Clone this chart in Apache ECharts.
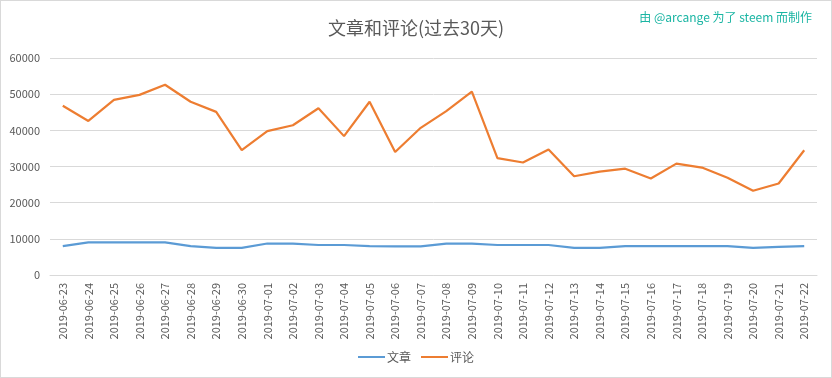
<!DOCTYPE html>
<html>
<head>
<meta charset="utf-8">
<script src="https://cdn.jsdelivr.net/npm/echarts@6/dist/echarts.min.js"></script>
<style>
  html, body { margin: 0; padding: 0; background: #fff; }
  #chart-container { position: absolute; left: 0; top: 0; width: 830px; height: 376px; border: 1px solid #d9d9d9; }
</style>
</head>
<body>
<div id="chart-container"></div>
<script>
var dom = document.getElementById('chart-container');
var myChart = echarts.init(dom, null, { renderer: 'canvas' });

const dates = [
  '2019-06-23', '2019-06-24', '2019-06-25', '2019-06-26', '2019-06-27', '2019-06-28',
  '2019-06-29', '2019-06-30', '2019-07-01', '2019-07-02', '2019-07-03', '2019-07-04',
  '2019-07-05', '2019-07-06', '2019-07-07', '2019-07-08', '2019-07-09', '2019-07-10',
  '2019-07-11', '2019-07-12', '2019-07-13', '2019-07-14', '2019-07-15', '2019-07-16',
  '2019-07-17', '2019-07-18', '2019-07-19', '2019-07-20', '2019-07-21', '2019-07-22'
];

// 文章
const posts = [
  8000, 9000, 9000, 9000, 9000, 8000, 7500, 7500, 8700, 8700, 8300, 8300,
  8000, 7900, 7900, 8700, 8700, 8300, 8300, 8300, 7500, 7500, 8000, 8000,
  8000, 8000, 8000, 7500, 7800, 8000
];

// 评论
const comments = [
  46800, 42600, 48400, 49800, 52600, 47900, 45100, 34500, 39800, 41400, 46100, 38400,
  47900, 34000, 40700, 45300, 50700, 32300, 31100, 34700, 27300, 28600, 29400, 26700,
  30800, 29700, 26900, 23300, 25300, 34500
];

const yTicks = [0, 10000, 20000, 30000, 40000, 50000, 60000];

const font = '"Noto Sans CJK SC", sans-serif';

var option = {
  textStyle: { fontFamily: font },
  title: [
    {
      text: '文章和评论(过去30天)',
      left: 'center',
      top: 13,
      textStyle: { fontSize: 18, fontWeight: 'normal', color: '#595959', fontFamily: font }
    },
    {
      text: '由 @arcange 为了 steem 而制作',
      right: 14,
      top: 5,
      textStyle: { fontSize: 12, fontWeight: 'normal', color: '#1ab5a3', fontFamily: font }
    }
  ],
  legend: {
    data: ['文章', '评论'],
    bottom: 9,
    left: 'center',
    icon: 'rect',
    itemWidth: 27,
    itemHeight: 2,
    itemGap: 10,
    textStyle: { fontSize: 12, color: '#595959', fontFamily: font, padding: [0, 0, 0, -3] }
  },
  grid: { left: 49, right: 14, top: 57, bottom: 102 },
  xAxis: {
    type: 'category',
    boundaryGap: true,
    data: dates,
    axisLine: { lineStyle: { color: '#d9d9d9' } },
    axisTick: { show: false },
    axisLabel: { rotate: 90, interval: 0, fontSize: 11, color: '#595959', margin: 8, fontFamily: font }
  },
  yAxis: {
    type: 'value',
    min: yTicks[0],
    max: yTicks[yTicks.length - 1],
    interval: 10000,
    axisLine: { show: false },
    axisTick: { show: false },
    splitLine: { lineStyle: { color: '#d9d9d9' } },
    axisLabel: {
      fontSize: 11, color: '#595959', margin: 10, fontFamily: font,
      formatter: function (value) { return String(value); }
    }
  },
  series: [
    {
      name: '文章',
      type: 'line',
      data: posts,
      showSymbol: false,
      symbol: 'none',
      lineStyle: { width: 2.2, color: '#5b9bd5' },
      itemStyle: { color: '#5b9bd5' }
    },
    {
      name: '评论',
      type: 'line',
      data: comments,
      showSymbol: false,
      symbol: 'none',
      lineStyle: { width: 2.2, color: '#ed7d31' },
      itemStyle: { color: '#ed7d31' }
    }
  ]
};

myChart.setOption(option);
window.addEventListener('resize', myChart.resize);
</script>
</body>
</html>
